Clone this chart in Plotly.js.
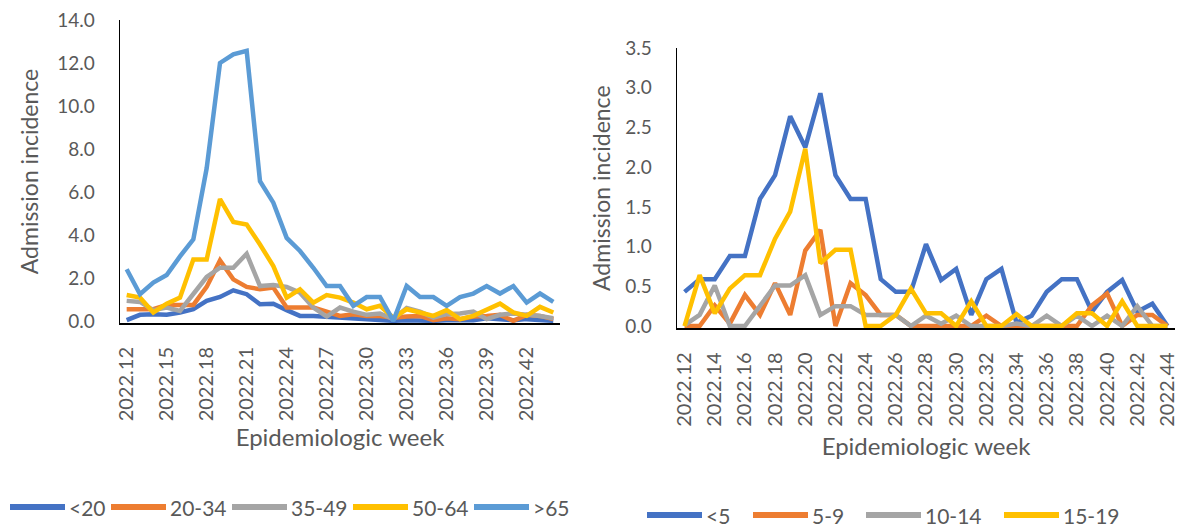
<!DOCTYPE html>
<html>
<head>
<meta charset="utf-8">
<script src="https://cdn.plot.ly/plotly-3.0.1.min.js"></script>
<style>html,body{margin:0;padding:0;background:#fff;}#chart{width:1185px;height:529px;}</style>
</head>
<body>
<div id="chart"></div>
<script>
// ---------- DATA ----------
const weeks = ['2022.12','2022.13','2022.14','2022.15','2022.16','2022.17','2022.18','2022.19','2022.20','2022.21','2022.22',
  '2022.23','2022.24','2022.25','2022.26','2022.27','2022.28','2022.29','2022.30','2022.31','2022.32','2022.33',
  '2022.34','2022.35','2022.36','2022.37','2022.38','2022.39','2022.40','2022.41','2022.42','2022.43','2022.44'];

// Left panel: adults
const adultNames = ['<20','20-34','35-49','50-64','>65'];
const ageLt20 = [0.03,0.28,0.31,0.28,0.39,0.54,0.93,1.11,1.42,1.24,0.77,0.80,0.50,0.23,0.23,0.20,0.12,0.12,0.08,0.08,0.00,0.03,0.00,0.00,0.03,0.03,0.03,0.12,0.08,0.03,0.08,0.03,0.00];
const age20to34 = [0.54,0.54,0.54,0.74,0.74,0.74,1.58,2.81,1.93,1.58,1.47,1.55,0.62,0.62,0.62,0.43,0.23,0.31,0.23,0.23,0.15,0.20,0.23,0.03,0.12,0.08,0.20,0.23,0.28,0.00,0.28,0.23,0.08];
const age35to49 = [0.93,0.88,0.50,0.62,0.46,1.24,2.04,2.47,2.47,3.12,1.62,1.67,1.58,1.31,0.62,0.20,0.62,0.43,0.28,0.34,0.08,0.60,0.43,0.15,0.31,0.34,0.43,0.08,0.28,0.34,0.31,0.23,0.12];
const age50to64 = [1.20,1.08,0.39,0.80,1.08,2.86,2.86,5.67,4.60,4.48,3.55,2.55,1.08,1.47,0.85,1.20,1.08,0.85,0.54,0.70,0.15,0.54,0.39,0.23,0.50,0.08,0.23,0.50,0.80,0.39,0.23,0.65,0.39];
const ageGt65 = [2.40,1.24,1.78,2.13,3.00,3.79,7.10,12.00,12.40,12.56,6.50,5.50,3.86,3.25,2.47,1.62,1.62,0.70,1.11,1.11,0.00,1.62,1.11,1.11,0.70,1.11,1.27,1.62,1.27,1.62,0.85,1.27,0.88];

// Right panel: children
const childNames = ['<5','5-9','10-14','15-19'];
const ageLt5 = [0.43,0.59,0.59,0.88,0.88,1.60,1.90,2.64,2.25,2.93,1.90,1.60,1.60,0.59,0.43,0.43,1.03,0.58,0.72,0.14,0.59,0.72,0.04,0.13,0.43,0.59,0.59,0.18,0.43,0.58,0.18,0.28,0.00];
const age5to9 = [0.00,0.00,0.26,0.03,0.39,0.14,0.54,0.14,0.95,1.21,0.00,0.54,0.39,0.14,0.14,0.00,0.00,0.00,0.00,0.00,0.13,0.00,0.00,0.00,0.00,0.00,0.00,0.26,0.41,0.00,0.14,0.14,0.00];
const age10to14 = [0.01,0.14,0.51,0.00,0.00,0.25,0.51,0.51,0.64,0.14,0.25,0.25,0.14,0.14,0.14,0.00,0.13,0.03,0.13,0.00,0.00,0.00,0.03,0.00,0.13,0.00,0.13,0.00,0.13,0.00,0.25,0.00,0.00];
const age15to19 = [0.00,0.64,0.16,0.47,0.64,0.64,1.10,1.44,2.23,0.79,0.96,0.96,0.00,0.00,0.14,0.47,0.16,0.16,0.00,0.31,0.00,0.00,0.15,0.00,0.00,0.00,0.16,0.16,0.00,0.31,0.00,0.00,0.00];

// ---------- STYLE ----------
const adultColors = ['#4472C4','#ED7D31','#A5A5A5','#FFC000','#5B9BD5'];
const childColors = ['#4472C4','#ED7D31','#A5A5A5','#FFC000'];
const adultSeries = [ageLt20, age20to34, age35to49, age50to64, ageGt65];
const childSeries = [ageLt5, age5to9, age10to14, age15to19];
const TXT = '#595959';
const FONT = 'Lato, "Open Sans", sans-serif';
const LW = 4.5;

const traces = [];
adultSeries.forEach((s, i) => traces.push({
  type: 'scatter', mode: 'lines', x: weeks, y: s, name: adultNames[i],
  xaxis: 'x', yaxis: 'y', line: {color: adultColors[i], width: LW, shape: 'linear'},
  showlegend: false, hoverinfo: 'x+y+name'
}));
childSeries.forEach((s, i) => traces.push({
  type: 'scatter', mode: 'lines', x: weeks, y: s, name: childNames[i],
  xaxis: 'x2', yaxis: 'y2', line: {color: childColors[i], width: LW, shape: 'linear'},
  showlegend: false, hoverinfo: 'x+y+name'
}));

// manual legends (line + label), positioned in pixels
const W = 1185, H = 529;
const shapes = [], annotations = [];
function addLegend(names, colors, lineStarts, yPx) {
  names.forEach((n, i) => {
    const x0 = lineStarts[i];
    shapes.push({type: 'line', xref: 'paper', yref: 'paper',
      x0: x0 / W, x1: (x0 + 55) / W, y0: 1 - yPx / H, y1: 1 - yPx / H,
      line: {color: colors[i], width: 6}});
    annotations.push({xref: 'paper', yref: 'paper', x: (x0 + 57) / W, y: 1 - yPx / H,
      xanchor: 'left', yanchor: 'middle', showarrow: false, text: n,
      font: {family: FONT, size: 21, color: TXT}});
  });
}
addLegend(adultNames, adultColors, [10, 111, 232, 353, 474], 507);
addLegend(childNames, childColors, [647, 753, 866, 1004], 515);

const commonX = {
  type: 'category', tickangle: -90, range: [-0.5, 32.5], showline: true, linecolor: '#000', linewidth: 2,
  ticks: '', showgrid: false, zeroline: false, tickfont: {family: FONT, size: 20, color: TXT},
  ticklabelstandoff: 14, automargin: false
};
const commonY = {
  showline: true, linecolor: '#000', linewidth: 1.5, ticks: '', showgrid: false, zeroline: false,
  tickformat: '.1f', tick0: 0, tickfont: {family: FONT, size: 19, color: TXT},
  ticklabelstandoff: 20, automargin: false
};

const layout = {
  width: W, height: H, margin: {l: 0, r: 0, t: 0, b: 0},
  paper_bgcolor: '#fff', plot_bgcolor: '#fff', showlegend: false,
  font: {family: FONT, color: TXT},
  xaxis: Object.assign({}, commonX, {domain: [120 / W, 560 / W], anchor: 'y', dtick: 3,
    title: {text: 'Epidemiologic week', font: {family: FONT, size: 24, color: TXT}, standoff: 9}}),
  yaxis: Object.assign({}, commonY, {domain: [(H - 323) / H, (H - 20) / H], anchor: 'x', range: [-0.1, 14], dtick: 2,
    title: {text: 'Admission incidence', font: {family: FONT, size: 23, color: TXT}, standoff: 12}}),
  xaxis2: Object.assign({}, commonX, {domain: [677 / W, 1175 / W], anchor: 'y2', dtick: 2,
    title: {text: 'Epidemiologic week', font: {family: FONT, size: 24, color: TXT}, standoff: 12}}),
  yaxis2: Object.assign({}, commonY, {domain: [(H - 328.4) / H, (H - 48) / H], anchor: 'x2', range: [-0.03, 3.5], dtick: 0.5,
    title: {text: 'Admission incidence', font: {family: FONT, size: 23, color: TXT}, standoff: 8}}),
  shapes: shapes, annotations: annotations
};

Plotly.newPlot('chart', traces, layout, {staticPlot: true, displayModeBar: false});
</script>
</body>
</html>
